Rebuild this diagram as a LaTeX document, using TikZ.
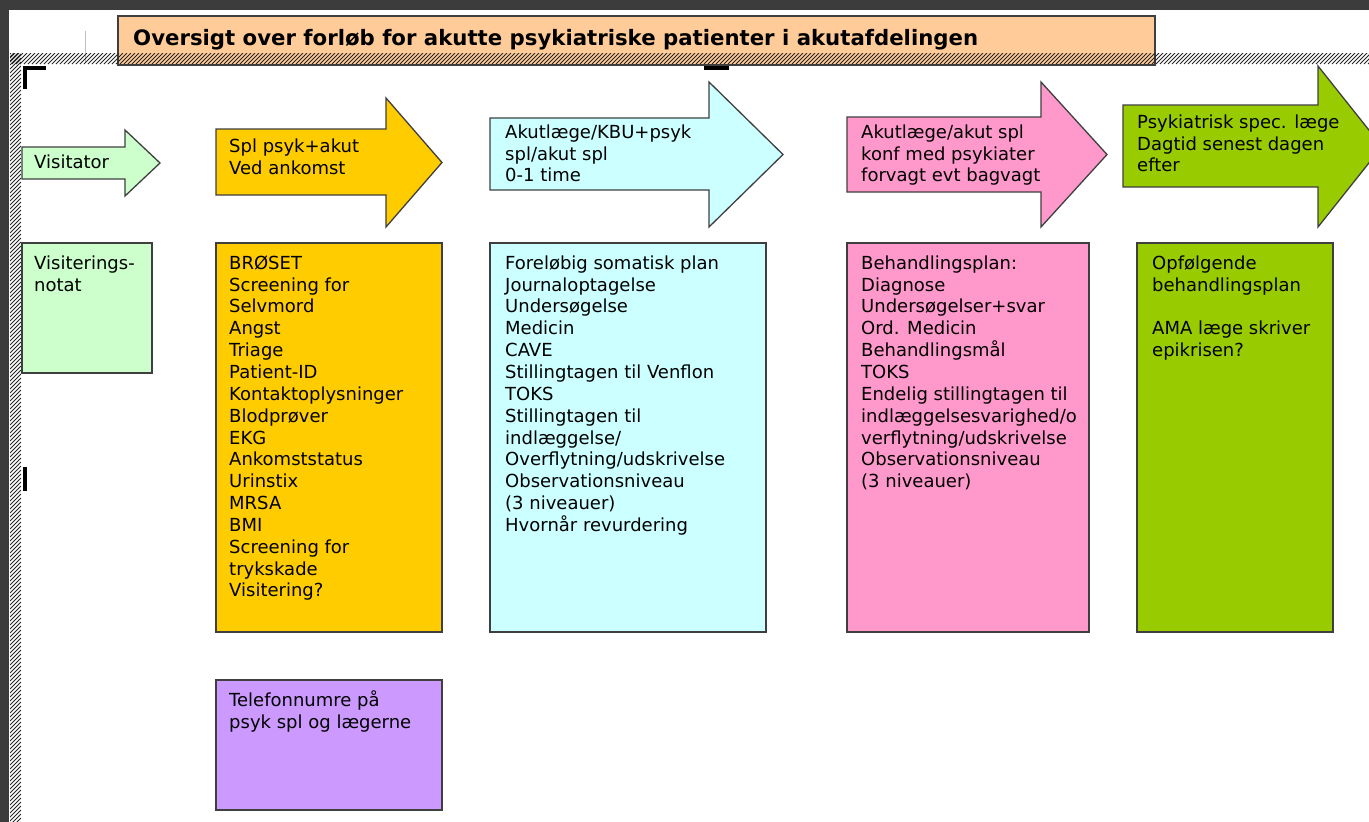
\documentclass[tikz,border=0pt]{standalone}
\usepackage{fontspec}
\setmainfont{DejaVu Sans}
\usetikzlibrary{positioning}

\definecolor{visitgreen}{HTML}{CCFFCC}
\definecolor{splorange}{HTML}{FFCC00}
\definecolor{akutcyan}{HTML}{CCFFFF}
\definecolor{konfpink}{HTML}{FF99CC}
\definecolor{specgreen}{HTML}{99CC00}
\definecolor{telpurple}{HTML}{CC99FF}
\definecolor{titlepeach}{HTML}{FFCC99}
\definecolor{edgegrey}{HTML}{3F3F3F}
\definecolor{darkbg}{HTML}{3C3C3C}

\tikzset{
  outline/.style={draw=edgegrey, line width=1.3pt},
  infobox/.style={outline, anchor=north west, inner sep=0pt, outer sep=0pt},
  boxtext/.style={anchor=north west, inner sep=0pt, align=left, font=\fontsize{18}{21.85}\selectfont},
  hatch/.style={line width=0.8pt, black!85},
}

% arrow: name, colour, left x, body top, body bottom, head x, head top, head bottom, tip x
\newcommand{\flowarrow}[9]{%
  \draw[outline, fill=#2] (#3,#4) -- (#6,#4) -- (#6,#7) -- (#9,{(#7+#8)/2}) -- (#6,#8) -- (#6,#5) -- (#3,#5) -- cycle;
  \coordinate (#1) at (#3,#4);
}

\begin{document}
\begin{tikzpicture}[x=1pt, y=-1pt]
  \useasboundingbox (0,0) rectangle (1369,822);
  \clip (0,0) rectangle (1369,822);
  \fill[darkbg] (0,0) rectangle (1369,822);
  \fill[white] (9,10) rectangle (1369,822);

  % title
  \node[infobox, fill=titlepeach, minimum width=1037pt, minimum height=49pt] (titlebox) at (118,16) {};
  \node[anchor=base west, inner sep=0pt, font=\bfseries\fontsize{21.25}{25}\selectfont] (title) at (133,45)
    {Oversigt over forløb for akutte psykiatriske patienter i akutafdelingen};

  % frame of the text area
  \draw[black!25, line width=1pt] (85,31) -- (85,63);
  \begin{scope}
    \clip (10,53) rectangle (1369,64);
    \foreach \i in {0,4,...,1372}
      \draw[hatch] (\i,64) -- (\i+11,53);
  \end{scope}
  \begin{scope}
    \clip (10,53) rectangle (21,822);
    \foreach \j in {46,50,...,830}
      \draw[hatch] (10,\j+11) -- (21,\j);
  \end{scope}
  \fill[black] (23,66) rectangle (46,70);
  \fill[black] (23,66) rectangle (27,89);
  \fill[black] (704,66) rectangle (729,70);
  \fill[black] (23,467) rectangle (27,491);

  % arrows
  \flowarrow{visarrow}{visitgreen}{22}{147}{179}{125}{130}{196}{160}
  \flowarrow{splarrow}{splorange}{216}{129}{195}{386}{98}{227}{442}
  \flowarrow{akutarrow}{akutcyan}{490}{118}{190}{709}{82}{227}{783}
  \flowarrow{konfarrow}{konfpink}{847}{117}{192}{1041}{82}{227}{1107}
  \flowarrow{specarrow}{specgreen}{1123}{105}{187}{1318}{66}{227}{1382}

  \node[boxtext, below right=6.2pt and 12pt of visarrow] (vistxt) {\strut Visitator};
  \node[boxtext, below right=7.7pt and 13pt of splarrow] (spltxt) {\strut Spl psyk+akut\\Ved ankomst};
  \node[boxtext, below right=4.7pt and 15pt of akutarrow] (akuttxt) {\strut Akutlæge/KBU+psyk\\spl/akut spl\\0-1 time};
  \node[boxtext, below right=5.7pt and 14pt of konfarrow] (konftxt) {\strut Akutlæge/akut spl\\konf med psykiater\\forvagt evt bagvagt};
  \node[boxtext, below right=7.7pt and 14pt of specarrow] (spectxt) {\strut Psykiatrisk spec. læge\\Dagtid senest dagen\\efter};

  % boxes
  \node[infobox, fill=visitgreen, minimum width=130pt, minimum height=130pt] (visbox) at (22,243) {};
  \node[infobox, fill=splorange, minimum width=226pt, minimum height=389pt] (splbox) at (216,243) {};
  \node[infobox, fill=akutcyan, minimum width=276pt, minimum height=389pt] (akutbox) at (490,243) {};
  \node[infobox, fill=konfpink, minimum width=242pt, minimum height=389pt] (konfbox) at (847,243) {};
  \node[infobox, fill=specgreen, minimum width=196pt, minimum height=389pt] (specbox) at (1137,243) {};
  \node[infobox, fill=telpurple, minimum width=226pt, minimum height=130pt] (telbox) at (216,680) {};

  \node[boxtext, below right=10.7pt and 12pt of visbox.north west] (visnote) {\strut Visiterings-\\notat};
  \node[boxtext, below right=10.7pt and 13pt of splbox.north west] (splnote)
    {\strut BRØSET\\Screening for\\Selvmord\\Angst\\Triage\\Patient-ID\\Kontaktoplysninger\\Blodprøver\\EKG\\Ankomststatus\\Urinstix\\MRSA\\BMI\\Screening for\\trykskade\\Visitering?};
  \node[boxtext, below right=10.7pt and 15pt of akutbox.north west] (akutnote)
    {\strut Foreløbig somatisk plan\\Journaloptagelse\\Undersøgelse\\Medicin\\CAVE\\Stillingtagen til Venflon\\TOKS\\Stillingtagen til\\indlæggelse/\\Overflytning/udskrivelse\\Observationsniveau\\(3 niveauer)\\Hvornår revurdering};
  \node[boxtext, below right=10.7pt and 14pt of konfbox.north west] (konfnote)
    {\strut Behandlingsplan:\\Diagnose\\Undersøgelser+svar\\Ord. Medicin\\Behandlingsmål\\TOKS\\Endelig stillingtagen til\\indlæggelsesvarighed/o\\verflytning/udskrivelse\\Observationsniveau\\(3 niveauer)};
  \node[boxtext, below right=10.7pt and 15pt of specbox.north west] (specnote)
    {\strut Opfølgende\\behandlingsplan\\[21.85pt]AMA læge skriver\\epikrisen?};
  \node[boxtext, below right=10.7pt and 13pt of telbox.north west] (telnote) {\strut Telefonnumre på\\psyk spl og lægerne};
\end{tikzpicture}
\end{document}
